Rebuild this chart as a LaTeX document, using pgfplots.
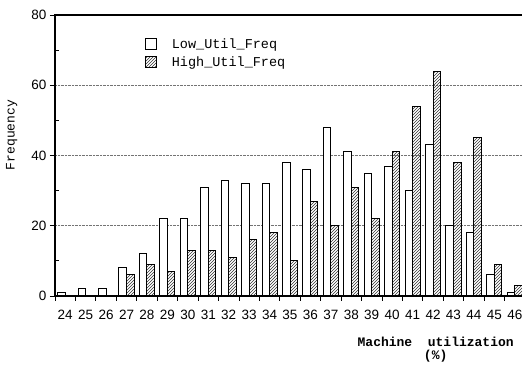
\documentclass[border=0pt]{standalone}
\usepackage{fontspec}
\setmainfont{Liberation Sans}
\newfontfamily\cour{Liberation Mono}
\usepackage{pgfplots}
\pgfplotsset{compat=1.18}
\usetikzlibrary{patterns}
\begin{document}
\begin{tikzpicture}
\begin{scope}
\clip (-55pt,-70pt) rectangle (467pt,296pt);
\begin{axis}[
  at={(0pt,0pt)}, anchor=south west,
  scale only axis, width=470pt, height=281pt,
  ybar=0pt, bar width=0.37,
  xmin=23.5, xmax=46.5, ymin=0, ymax=80,
  xtick={23.5,24.5,25.5,26.5,27.5,28.5,29.5,30.5,31.5,32.5,33.5,34.5,35.5,36.5,37.5,38.5,39.5,40.5,41.5,42.5,43.5,44.5,45.5,46.5},
  xticklabels={},
  extra x ticks={24,25,26,27,28,29,30,31,32,33,34,35,36,37,38,39,40,41,42,43,44,45,46},
  extra x tick labels={24,25,26,27,28,29,30,31,32,33,34,35,36,37,38,39,40,41,42,43,44,45,46},
  extra x tick style={major tick length=0pt, xticklabel style={yshift=-11pt}},
  ytick={0,20,40,60,80},
  minor y tick num=1,
  tick align=outside,
  major tick length=5pt,
  minor tick length=4pt,
  every minor y tick/.append style={xshift=4pt},
  xtick pos=left, ytick pos=left,
  tick style={black, line width=0.8pt},
  ymajorgrids,
  major grid style={densely dotted, black!55, line width=0.6pt},
  axis line style={black, line width=1.2pt},
  /pgf/number format/assume math mode=true,
  ticklabel style={font=\fontsize{13.5}{15}\selectfont},
  ylabel={Frequency},
  ylabel style={at={(axis description cs:-0.092,0.573)}, anchor=center, font=\cour\fontsize{13}{14}\selectfont},
  xlabel={Machine\ \ utilization\\(\%)},
  xlabel style={at={(axis description cs:0.81,-0.192)}, anchor=center, align=center, font=\cour\bfseries\fontsize{13}{13}\selectfont},
  legend image code/.code={\draw[#1, line width=0.9pt] (0pt,-5pt) rectangle (11pt,6pt);},
  legend style={at={(0.191,0.922)}, anchor=north west, draw=none, fill=none,
    font=\cour\fontsize{13.5}{15}\selectfont, row sep=2pt, inner sep=0pt,
    /tikz/every odd column/.append style={column sep=13pt}},
  legend cell align=left,
]
\addplot[draw=black, line width=1pt, fill=white] coordinates {
(24,1) (25,2) (26,2) (27,8) (28,12) (29,22) (30,22) (31,31) (32,33) (33,32) (34,32)
(35,38) (36,36) (37,48) (38,41) (39,35) (40,37) (41,30) (42,43) (43,20) (44,18) (45,6) (46,1)};
\addplot[draw=black, line width=1pt, pattern=north east lines, pattern color=black!80] coordinates {
(27,6) (28,9) (29,7) (30,13) (31,13) (32,11) (33,16) (34,18)
(35,10) (36,27) (37,20) (38,31) (39,22) (40,41) (41,54) (42,64) (43,38) (44,45) (45,9) (46,3)};
\legend{Low\_Util\_Freq, High\_Util\_Freq}
\end{axis}
\end{scope}
\pgfresetboundingbox
\path[use as bounding box] (-55pt,-70pt) rectangle (467pt,296pt);
\end{tikzpicture}
\end{document}
